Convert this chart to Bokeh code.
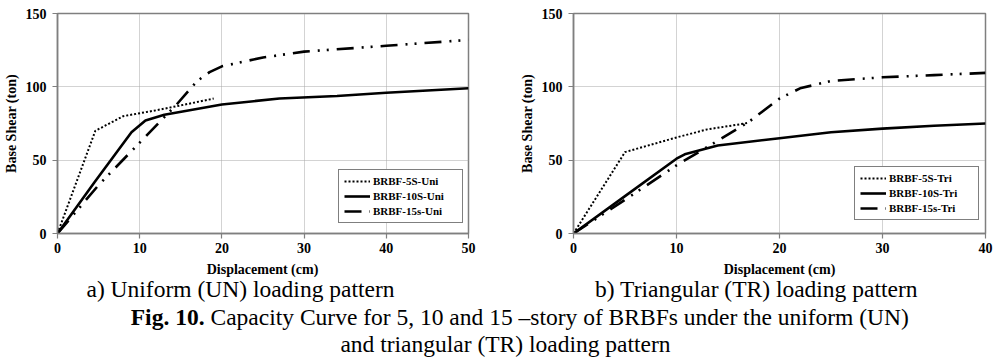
from bokeh.plotting import figure
from bokeh.layouts import column, row
from bokeh.models import Range1d, Legend, LegendItem, FixedTicker
from bokeh.core.properties import value
from bokeh.embed import file_html
from bokeh.resources import INLINE

# ---------------- data ----------------
uni_5s_x = [0, 4.6, 8, 12, 16, 19]
uni_5s_y = [0, 70, 80, 84, 88.5, 92]
uni_10s_x = [0, 4.5, 9, 10.7, 13, 20, 27, 34, 40, 50]
uni_10s_y = [0, 35, 69, 77, 81, 88, 92, 93.8, 96, 99]
uni_15s_x = [0, 5, 10, 14.5, 17, 18.5, 20, 25, 30, 40, 50]
uni_15s_y = [0, 33, 62, 88, 104, 110, 114, 120, 124, 128, 132]

tri_5s_x = [0, 5, 10, 13, 16.2, 17]
tri_5s_y = [0, 55.5, 65.5, 71, 74.5, 75.5]
tri_10s_x = [0, 5, 10, 10.8, 14, 20, 25, 30, 35, 40]
tri_10s_y = [0, 25.5, 51, 54, 60, 65, 69, 71.5, 73.5, 75]
tri_15s_x = [0, 5, 10, 13, 17, 20, 22, 25, 30, 35, 40]
tri_15s_y = [0, 23, 46.5, 59, 76, 92, 99, 104, 106.5, 108, 109.5]

uni_labels = ["BRBF-5S-Uni", "BRBF-10S-Uni", "BRBF-15s-Uni"]
tri_labels = ["BRBF-5S-Tri", "BRBF-10S-Tri", "BRBF-15s-Tri"]
uni_xticks = [0, 10, 20, 30, 40, 50]
tri_xticks = [0, 10, 20, 30, 40]
y_ticks = [0, 50, 100, 150]

x_title = "Displacement (cm)"
y_title = "Base Shear (ton)"
cap_a = "a) Uniform (UN) loading pattern"
cap_b = "b) Triangular (TR) loading pattern"
fig_bold = "Fig. 10."
fig_rest = "Capacity Curve for 5, 10 and 15 \u2013story of BRBFs under the uniform (UN)"
fig_line2 = "and triangular (TR) loading pattern"

SERIF = "Liberation Serif"
AX = "#7f7f7f"
CAP_SIZE = "23.5px"


def make_panel(xs, ys, labels, xmax, xticks, left, right, top, loc):
    p = figure(width=500, height=260, output_backend="svg", toolbar_location=None,
               title=None,
               x_range=Range1d(0, xmax), y_range=Range1d(0, 150),
               min_border_left=left, min_border_right=right,
               min_border_top=top, min_border_bottom=27)
    p.background_fill_color = "white"
    p.border_fill_color = "white"
    p.outline_line_color = AX
    p.outline_line_width = 1.5

    for ax in (p.xaxis[0], p.yaxis[0]):
        ax.axis_line_color = AX
        ax.axis_line_width = 1.5
        ax.major_tick_line_color = AX
        ax.major_tick_line_width = 1.2
        ax.major_tick_in = 0
        ax.major_tick_out = 5
        ax.minor_tick_line_color = None
        ax.major_label_text_font = SERIF
        ax.major_label_text_font_style = "bold"
        ax.major_label_text_font_size = "14px"
        ax.major_label_text_color = "black"
    p.xaxis.ticker = FixedTicker(ticks=xticks)
    p.yaxis.ticker = FixedTicker(ticks=y_ticks)
    p.xaxis.major_label_standoff = 4
    p.yaxis.major_label_standoff = 6
    p.yaxis.axis_label = y_title
    p.yaxis.axis_label_text_font = SERIF
    p.yaxis.axis_label_text_font_style = "bold"
    p.yaxis.axis_label_text_font_size = "14px"
    p.yaxis.axis_label_text_color = "black"
    p.yaxis.axis_label_standoff = 4

    for g in (p.xgrid[0], p.ygrid[0]):
        g.grid_line_color = "#a6a6a6"
        g.grid_line_dash = "1 1"
        g.grid_line_width = 1

    r1 = p.line(xs[0], ys[0], line_color="black", line_width=2, line_dash="2 2")
    r2 = p.line(xs[1], ys[1], line_color="black", line_width=2.6)
    r3 = p.line(xs[2], ys[2], line_color="black", line_width=2.6, line_dash="17 8 2 7 2 8")

    leg = Legend(items=[LegendItem(label=labels[0], renderers=[r1]),
                        LegendItem(label=labels[1], renderers=[r2]),
                        LegendItem(label=labels[2], renderers=[r3])],
                 location=loc, orientation="vertical")
    leg.border_line_color = "black"
    leg.border_line_width = 1.5
    leg.background_fill_color = "white"
    leg.background_fill_alpha = 1
    leg.label_text_font = SERIF
    leg.label_text_font_style = "bold"
    leg.label_text_font_size = "11px"
    leg.label_text_color = "black"
    leg.glyph_width = 26
    leg.glyph_height = 12
    leg.label_height = 12
    leg.label_width = 84
    leg.label_standoff = 3
    leg.spacing = 3
    leg.padding = 5
    leg.margin = 0
    p.add_layout(leg, "center")
    return p


p_uni = make_panel([uni_5s_x, uni_10s_x, uni_15s_x], [uni_5s_y, uni_10s_y, uni_15s_y],
                   uni_labels, 50, uni_xticks, 56, 32, 11, (281, 10))
p_tri = make_panel([tri_5s_x, tri_10s_x, tri_15s_x], [tri_5s_y, tri_10s_y, tri_15s_y],
                   tri_labels, 40, tri_xticks, 73, 15, 13, (281, 13))

# ---------------- caption area (y measured downward from its top, in pixels) ----------------
cap = figure(width=999, height=100, output_backend="svg", toolbar_location=None,
             title=None, x_axis_location=None, y_axis_location=None,
             x_range=Range1d(0, 999), y_range=Range1d(100, 0),
             min_border=0, outline_line_color=None)
cap.grid.visible = False
cap.background_fill_color = "white"
cap.border_fill_color = "white"

cap.text(x=[262, 779], y=[8.5, 8.5], text=[x_title, x_title], text_align="center",
         text_baseline="middle", text_font=value(SERIF), text_font_style="bold",
         text_font_size="14px", text_color="black")
cap.text(x=[240, 756], y=[28, 28], text=[cap_a, cap_b], text_align="center",
         text_baseline="middle", text_font=value(SERIF), text_font_size=CAP_SIZE,
         text_color="black")
cap.text(x=[204], y=[56.5], text=[fig_bold], text_align="right", text_baseline="middle",
         text_font=value(SERIF), text_font_style="bold", text_font_size=CAP_SIZE,
         text_color="black")
cap.text(x=[210], y=[56.5], text=[fig_rest], text_align="left", text_baseline="middle",
         text_font=value(SERIF), text_font_size=CAP_SIZE, text_color="black")
cap.text(x=[505], y=[83.5], text=[fig_line2], text_align="center", text_baseline="middle",
         text_font=value(SERIF), text_font_size=CAP_SIZE, text_color="black")

layout = column(row(p_uni, p_tri, spacing=0), cap, spacing=0)
open("out.html", "w").write(file_html(layout, INLINE))
